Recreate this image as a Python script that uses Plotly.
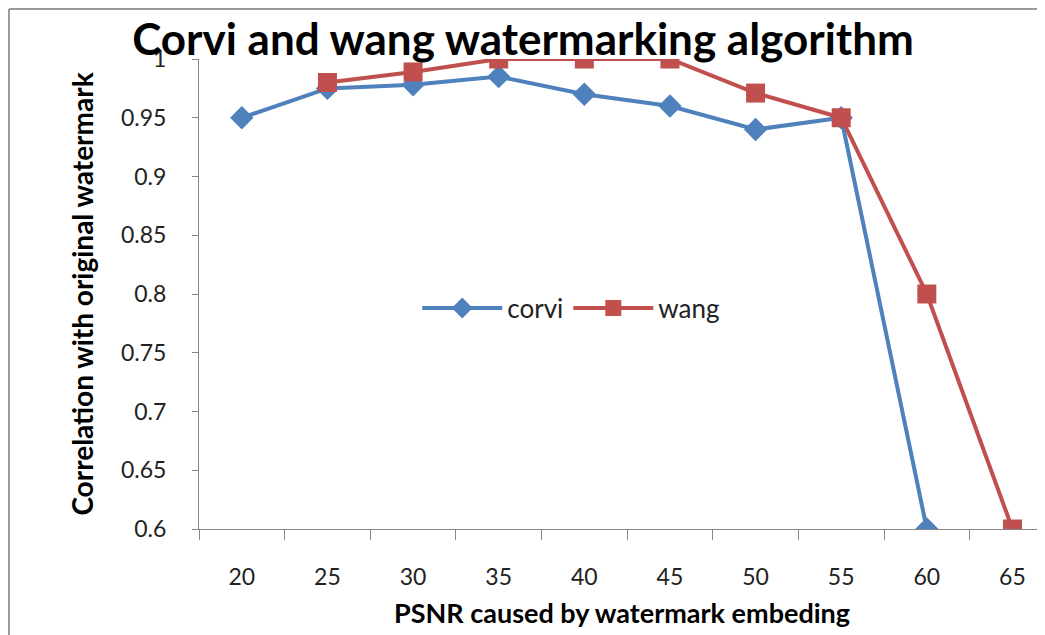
import plotly.graph_objects as go

psnr = ["20", "25", "30", "35", "40", "45", "50", "55", "60", "65"]
corvi = [0.95, 0.975, 0.978, 0.985, 0.97, 0.96, 0.94, 0.95, 0.60, None]
wang = [None, 0.98, 0.989, 1.0, 1.0, 1.0, 0.971, 0.95, 0.80, 0.60]
yticks = [0.6, 0.65, 0.7, 0.75, 0.8, 0.85, 0.9, 0.95, 1]
ytext = ["0.6", "0.65", "0.7", "0.75", "0.8", "0.85", "0.9", "0.95", "1"]

FONT = "Lato"
W, H = 1037, 627

fig = go.Figure()
fig.add_trace(go.Scatter(
    x=psnr, y=corvi, name="corvi", mode="lines+markers",
    line=dict(color="#4F81BD", width=4),
    marker=dict(symbol="diamond", size=18, color="#4F81BD"),
))
fig.add_trace(go.Scatter(
    x=psnr, y=wang, name="wang", mode="lines+markers",
    line=dict(color="#C0504D", width=4),
    marker=dict(symbol="square", size=19, color="#C0504D"),
))

fig.update_layout(
    width=W, height=H,
    paper_bgcolor="white", plot_bgcolor="white",
    margin=dict(l=191, r=0, t=51, b=106),
    font=dict(family=FONT, color="#222222"),
    title=dict(text="<b>Corvi and wang watermarking algorithm</b>",
               font=dict(family=FONT, size=44, color="black"),
               x=(523 - 8) / W, xanchor="center", xref="container",
               y=1 - 32 / H, yanchor="middle", yref="container"),
    showlegend=True,
    legend=dict(orientation="h", x=0.44, xanchor="center", y=0.47, yanchor="middle",
                font=dict(size=26, color="#222222"), bgcolor="rgba(0,0,0,0)",
                itemwidth=80),
    xaxis=dict(type="category", range=[-0.5, 9.38],
               showline=True, linecolor="#868686", linewidth=1,
               ticks="outside", tickson="boundaries", ticklen=10, tickcolor="#868686",
               showgrid=False, zeroline=False,
               tickfont=dict(size=23, color="#222222"),
               ticklabelstandoff=27,
               title=dict(text="<b>PSNR caused by watermark embeding</b>",
                          font=dict(size=27, color="black"), standoff=15)),
    yaxis=dict(range=[0.6, 1.0], tickvals=yticks, ticktext=ytext,
               showline=True, linecolor="#868686", linewidth=1,
               ticks="outside", ticklen=6, tickcolor="#868686",
               showgrid=False, zeroline=False,
               tickfont=dict(size=23, color="#222222"),
               ticklabelstandoff=21,
               title=dict(text="<b>Correlation with original watermark</b>",
                          font=dict(size=28, color="black"), standoff=19)),
)

fig.add_shape(type="line", xref="paper", yref="paper",
              x0=-0.2246, x1=-0.2246, y0=-0.3, y1=1.1064,
              line=dict(color="#9a9a9a", width=2))
fig.add_shape(type="line", xref="paper", yref="paper",
              x0=-0.2246, x1=1.1, y0=1.1064, y1=1.1064,
              line=dict(color="#9a9a9a", width=2))

fig.write_html("out.html")
